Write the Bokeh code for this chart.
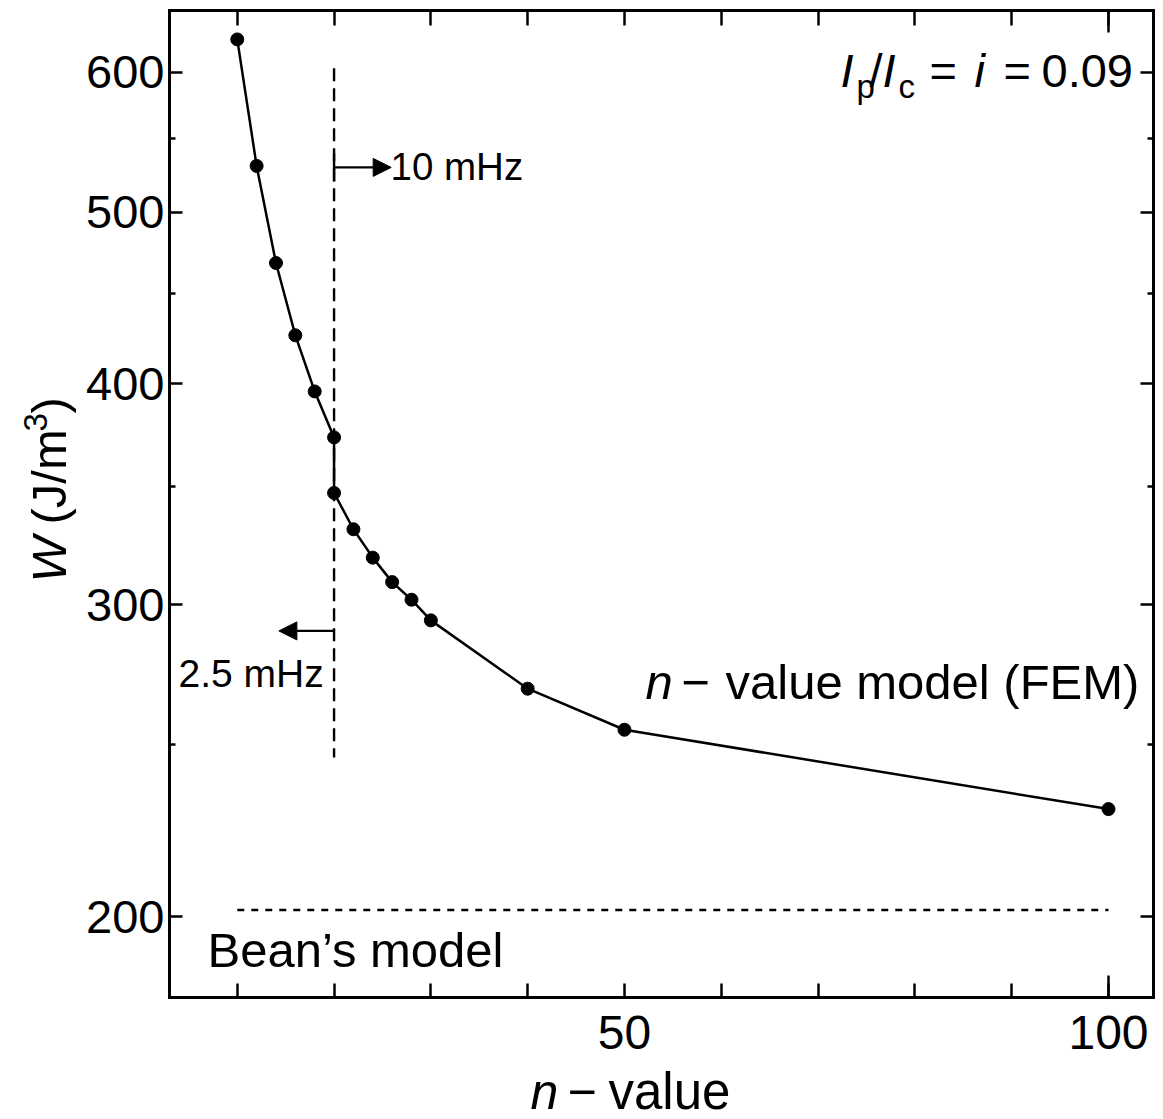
import math
from bokeh.plotting import figure
from bokeh.models import (Range1d, FixedTicker, LinearAxis, LogAxis, Label, Arrow,
                          NormalHead, TeeHead, PrintfTickFormatter)
from bokeh.embed import file_html
from bokeh.resources import INLINE

# ---------------- data ----------------
n_values = [10, 12, 14, 16, 18, 20, 20, 22, 24, 26, 28, 30, 40, 50, 100]
W_values = [626, 531, 468, 426, 396, 373, 347, 331, 319, 309, 302, 294, 269, 255, 230]

bean_n = [10, 100]
bean_W = [201.7, 201.7]

split_n = [20, 20]          # frequency boundary (vertical dashed line)
split_W = [603, 246]

arrow10_n = [20, 25.9]      # "10 mHz" arrow (start, end)
arrow10_W = 530
arrow25_n = [20, 14.3]      # "2.5 mHz" arrow (start, end)
arrow25_W = 290

x_ticks = [10, 20, 30, 40, 50, 60, 70, 80, 90, 100]
x_long_ticks = [100]
x_tick_labels = {50: "50", 100: "100"}
y_ticks = [200, 300, 400, 500, 600]
y_minor_ticks = [250, 350, 450, 550, 650]

X0, X1 = 3.0, 104.65        # axis box limits (n)
Y0, Y1 = 180.0, 650.0       # axis box limits (W)

# ---------------- geometry (pixel box of the axes) ----------------
W_PX, H_PX = 1163, 1119
L, R, T, B = 169, 1153, 10, 997
FONT = "Liberation Sans"


def nx(px):
    return X0 + (px - L) * (X1 - X0) / (R - L)


def wy(py):
    return math.exp(math.log(Y1) - (py - T) * (math.log(Y1) - math.log(Y0)) / (B - T))


# the frame covers the whole canvas; the axes are pinned to the box edges
p = figure(width=W_PX, height=H_PX,
           x_range=Range1d(nx(0), nx(W_PX)), y_range=Range1d(wy(H_PX), wy(0)),
           y_axis_type="log", x_axis_location=None, y_axis_location=None,
           output_backend="svg", toolbar_location=None,
           min_border=0, min_border_left=0, min_border_right=0,
           min_border_top=0, min_border_bottom=0)
p.grid.visible = False
p.outline_line_color = None
p.background_fill_color = "white"
p.border_fill_color = "white"

xt = FixedTicker(ticks=x_ticks, minor_ticks=[])
xlong = FixedTicker(ticks=x_long_ticks, minor_ticks=[])
yt = FixedTicker(ticks=y_ticks, minor_ticks=y_minor_ticks)


def style_axis(ax, labels=True, size="46px", tick_in=13):
    ax.axis_line_color = "black"
    ax.axis_line_width = 3
    ax.axis_line_cap = "square"
    ax.major_tick_line_color = "black"
    ax.major_tick_line_width = 2.5
    ax.minor_tick_line_color = "black"
    ax.minor_tick_line_width = 2.5
    ax.major_tick_in = tick_in
    ax.major_tick_out = 0
    ax.minor_tick_in = 6
    ax.minor_tick_out = 0
    ax.major_label_text_font = FONT
    ax.major_label_text_color = "black"
    if labels:
        ax.major_label_text_font_size = size
    else:
        ax.major_label_text_font_size = "0px"
        ax.major_label_standoff = 0


bottom = LinearAxis(ticker=xt, fixed_location=Y0, bounds=(X0, X1))
bottom.major_label_overrides = {t: x_tick_labels.get(t, "") for t in x_ticks}
style_axis(bottom, size="48px", tick_in=14)
bottom.major_label_standoff = 18
p.add_layout(bottom, "below")

top = LinearAxis(ticker=xt, fixed_location=Y1, bounds=(X0, X1))
top.major_label_overrides = {t: "" for t in x_ticks}
style_axis(top, labels=False, tick_in=15)
p.add_layout(top, "above")

# the tick at n = 100 is drawn longer than the others
for loc, place in ((Y0, "below"), (Y1, "above")):
    ax = LinearAxis(ticker=xlong, fixed_location=loc, bounds=(X0, X1))
    ax.major_label_overrides = {t: "" for t in x_long_ticks}
    style_axis(ax, labels=False, tick_in=22)
    ax.axis_line_color = None
    p.add_layout(ax, place)

left = LogAxis(ticker=yt, fixed_location=X0, bounds=(Y0, Y1))
left.formatter = PrintfTickFormatter(format="%d")
style_axis(left, size="47px")
left.major_label_standoff = 5
p.add_layout(left, "left")

right = LogAxis(ticker=yt, fixed_location=X1, bounds=(Y0, Y1))
right.major_label_overrides = {t: "" for t in y_ticks}
style_axis(right, labels=False)
p.add_layout(right, "right")

# ---------------- glyphs ----------------
p.line(bean_n, bean_W, line_color="black", line_width=2.4, line_dash="7 7")
p.line(split_n, split_W, line_color="black", line_width=2.4, line_dash="13 7")
p.line(n_values, W_values, line_color="black", line_width=2.5)
p.scatter(n_values, W_values, size=13, fill_color="black", line_color="black")

p.add_layout(Arrow(x_start=arrow10_n[0], y_start=arrow10_W, x_end=arrow10_n[1], y_end=arrow10_W,
                   line_width=2.2, line_color="black",
                   end=NormalHead(size=18, fill_color="black", line_color="black"),
                   start=TeeHead(size=28, line_width=2.4, line_color="black")))
p.add_layout(Arrow(x_start=arrow25_n[0], y_start=arrow25_W, x_end=arrow25_n[1], y_end=arrow25_W,
                   line_width=2.2, line_color="black",
                   end=NormalHead(size=18, fill_color="black", line_color="black")))

# ---------------- text ----------------
BASE_SHIFT = 0.375   # empirical correction of the rendered baseline (in em)


def lab(px, py, text, size, style="normal", angle=0.0):
    if angle == 0:
        py = py - BASE_SHIFT * size
    else:
        px = px - BASE_SHIFT * size
    p.add_layout(Label(x=nx(px), y=wy(py), text=text, text_font=FONT,
                       text_font_size=f"{size}px", text_font_style=style,
                       text_color="black", angle=angle, text_align="left",
                       text_baseline="alphabetic"))


# I_p / I_c = i = 0.09
lab(840, 88, "I", 47, "italic")
lab(856, 98, "p", 33)
lab(869, 88, "/", 47)
lab(882, 88, "I", 47, "italic")
lab(898, 98, "c", 33)
lab(929, 88, "=", 47)
lab(974, 88, "i", 47, "italic")
lab(1003, 88, "=", 47)
lab(1041, 88, "0.09", 47)

lab(390, 180, "10 mHz", 38.5)
lab(178, 688, "2.5 mHz", 39)

lab(645, 700, "n", 49, "italic")
lab(681, 700, "\u2212", 49)
lab(725, 700, "value model (FEM)", 49)

lab(207, 968, "Bean\u2019s model", 49)

# x axis label
lab(530, 1110, "n", 50, "italic")
lab(567, 1110, "\u2212", 50)
lab(608, 1110, "value", 51)

# y axis label (rotated)
ang = math.pi / 2
lab(67, 582, "W", 49, "italic", ang)
lab(67, 524, "(J/m", 49, "normal", ang)
lab(47, 431, "3", 33, "normal", ang)
lab(67, 413, ")", 49, "normal", ang)

with open("out.html", "w") as f:
    f.write(file_html(p, INLINE))
